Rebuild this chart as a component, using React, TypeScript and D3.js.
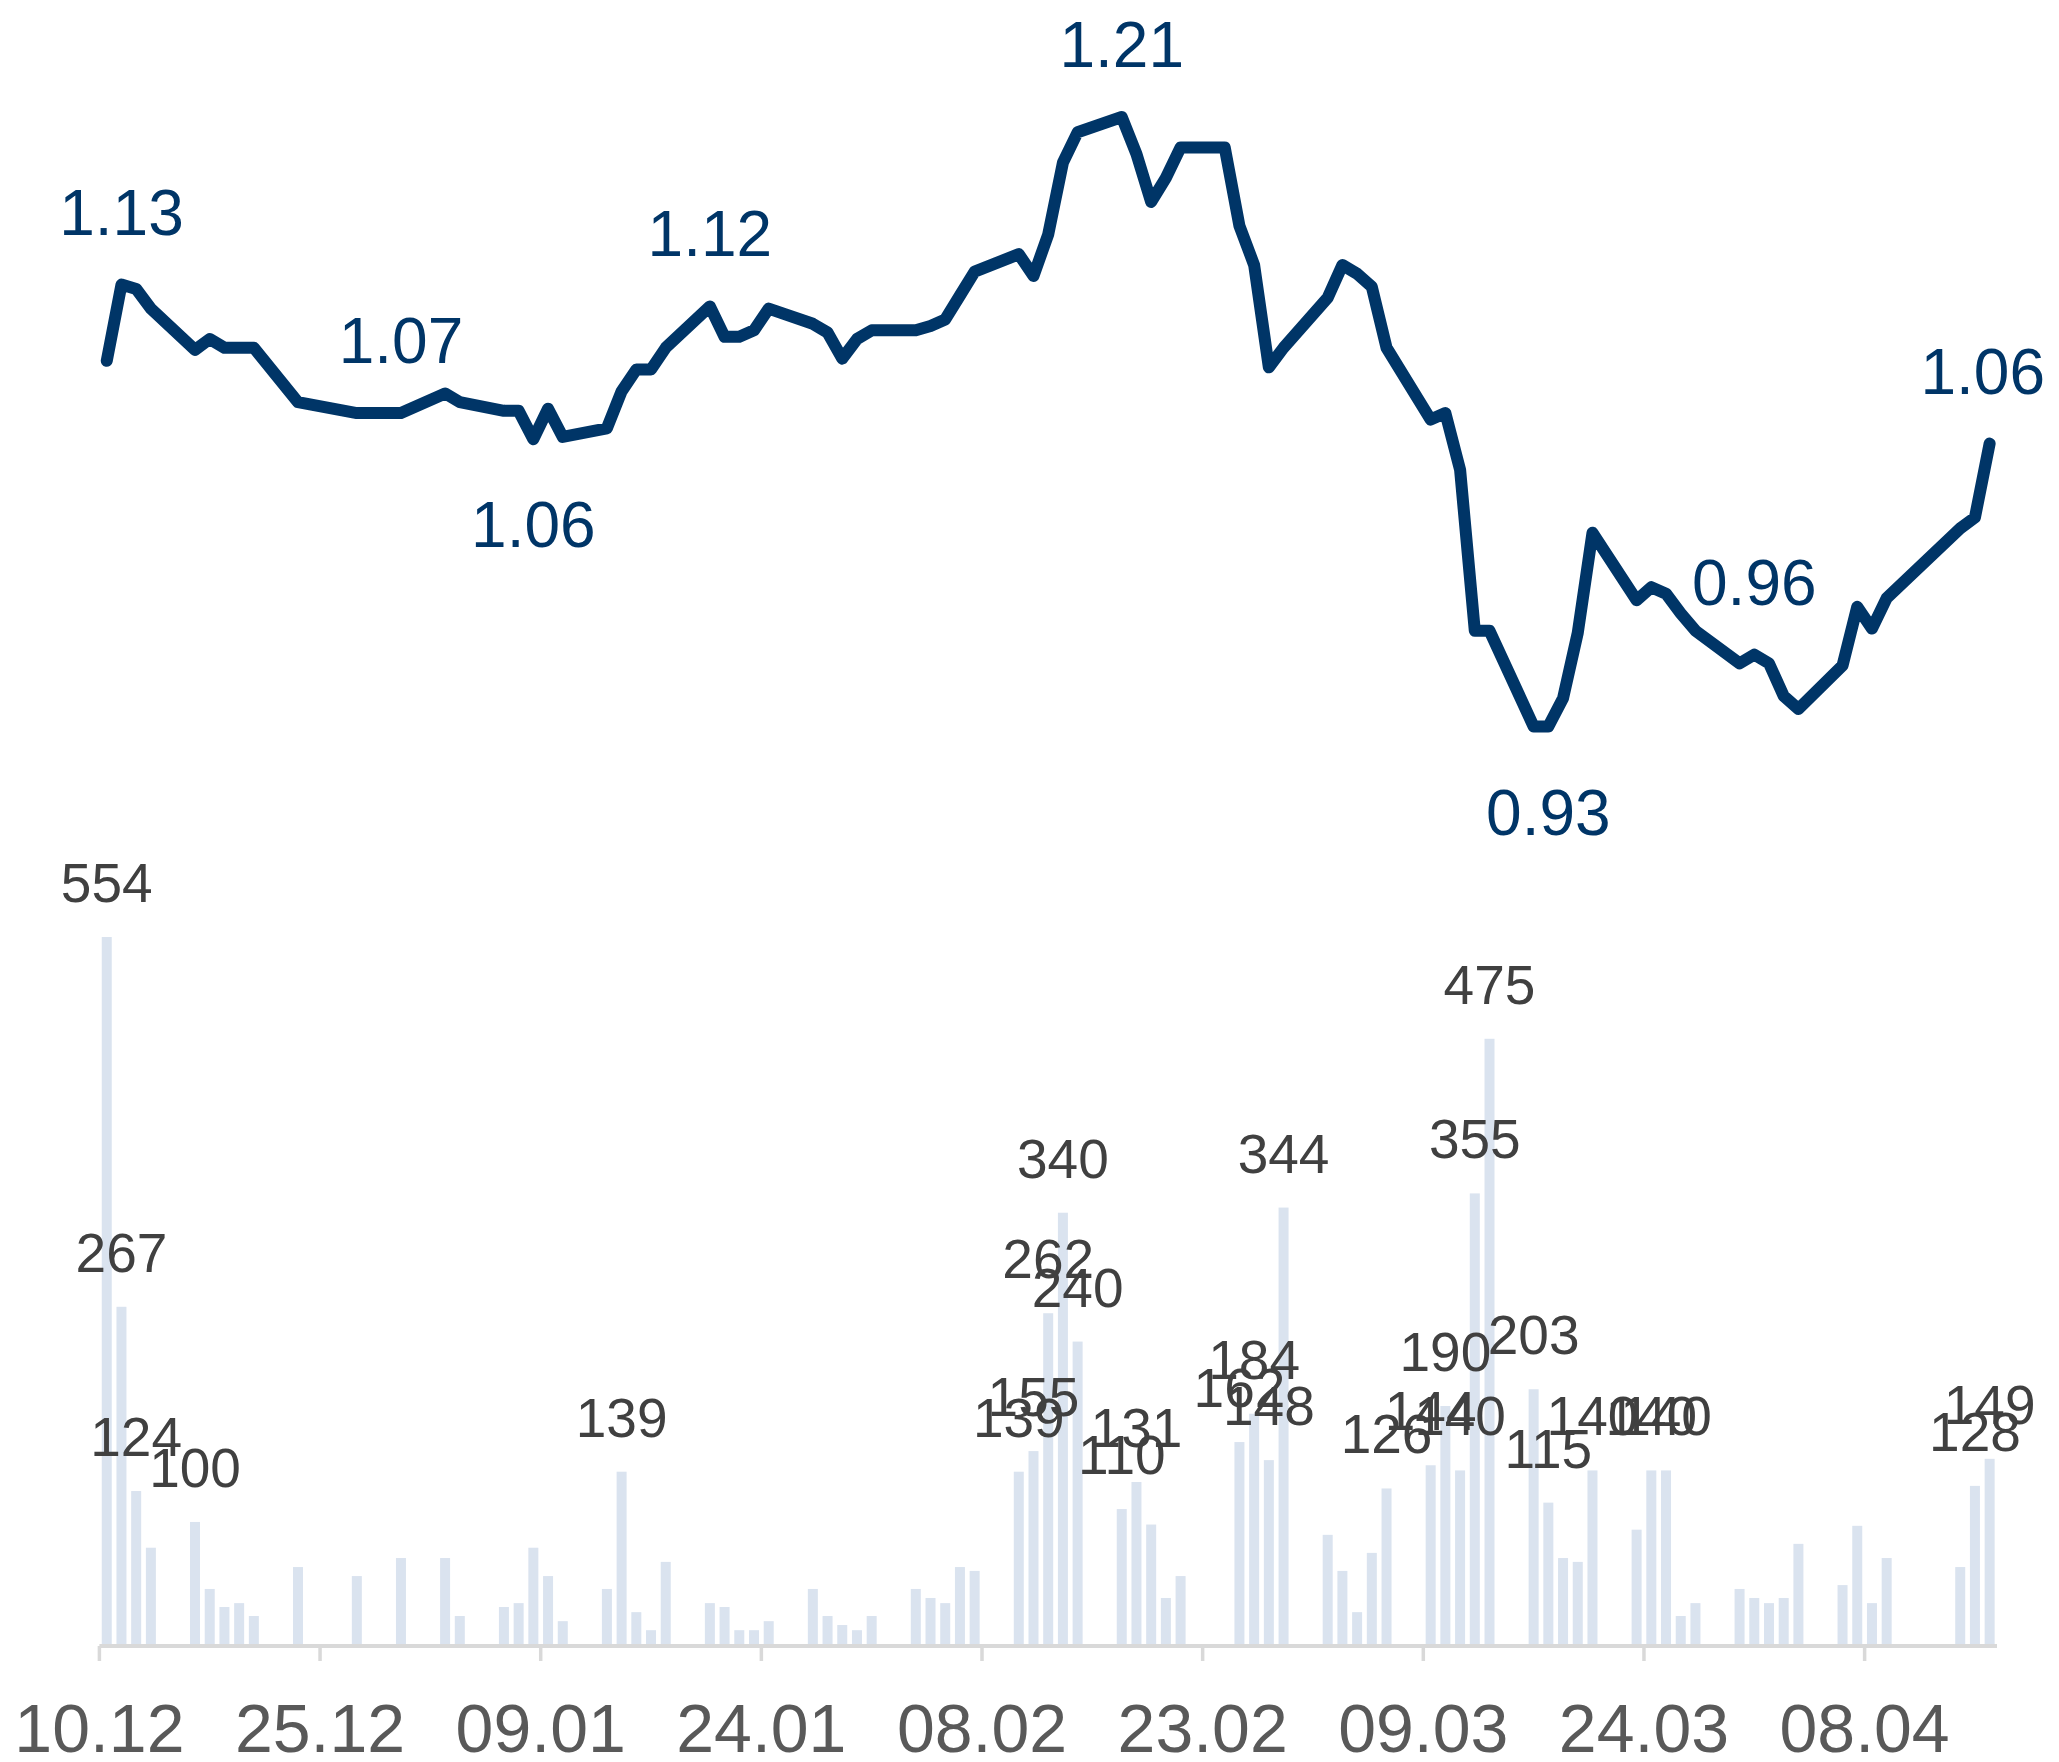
import React from 'react';
import * as d3 from 'd3';

// Trading days (Xetra, Dec 2019 – Apr 2020)
const dates: string[] = [
  '2019-12-10', '2019-12-11', '2019-12-12', '2019-12-13', '2019-12-16', '2019-12-17', '2019-12-18', '2019-12-19', '2019-12-20', '2019-12-23', '2019-12-27', '2019-12-30',
  '2020-01-02', '2020-01-03', '2020-01-06', '2020-01-07', '2020-01-08', '2020-01-09', '2020-01-10', '2020-01-13', '2020-01-14', '2020-01-15', '2020-01-16', '2020-01-17',
  '2020-01-20', '2020-01-21', '2020-01-22', '2020-01-23', '2020-01-24', '2020-01-27', '2020-01-28', '2020-01-29', '2020-01-30', '2020-01-31',
  '2020-02-03', '2020-02-04', '2020-02-05', '2020-02-06', '2020-02-07', '2020-02-10', '2020-02-11', '2020-02-12', '2020-02-13', '2020-02-14',
  '2020-02-17', '2020-02-18', '2020-02-19', '2020-02-20', '2020-02-21', '2020-02-24', '2020-02-25', '2020-02-26', '2020-02-27', '2020-02-28',
  '2020-03-02', '2020-03-03', '2020-03-04', '2020-03-05', '2020-03-06', '2020-03-09', '2020-03-10', '2020-03-11', '2020-03-12', '2020-03-13',
  '2020-03-16', '2020-03-17', '2020-03-18', '2020-03-19', '2020-03-20', '2020-03-23', '2020-03-24', '2020-03-25', '2020-03-26', '2020-03-27',
  '2020-03-30', '2020-03-31', '2020-04-01', '2020-04-02', '2020-04-03', '2020-04-06', '2020-04-07', '2020-04-08', '2020-04-09',
  '2020-04-14', '2020-04-15', '2020-04-16',
];

const prices: number[] = [
  1.098, 1.133, 1.131, 1.122, 1.103, 1.108, 1.104, 1.104, 1.104, 1.079, 1.074, 1.074,
  1.083, 1.079, 1.075, 1.075, 1.062, 1.076, 1.063, 1.067, 1.084, 1.094, 1.094, 1.104,
  1.123, 1.109, 1.109, 1.112, 1.122, 1.115, 1.111, 1.099, 1.108, 1.112,
  1.112, 1.114, 1.117, 1.128, 1.139, 1.147, 1.137, 1.156, 1.189, 1.203,
  1.21, 1.193, 1.171, 1.182, 1.196, 1.196, 1.160, 1.142, 1.095, 1.104,
  1.127, 1.142, 1.138, 1.132, 1.104, 1.071, 1.074, 1.048, 0.974, 0.974,
  0.93, 0.93, 0.943, 0.973, 1.019, 0.988, 0.994, 0.991, 0.982, 0.974,
  0.959, 0.963, 0.959, 0.944, 0.938, 0.958, 0.985, 0.975, 0.989,
  1.021, 1.026, 1.06,
];

const volumes: number[] = [
  554, 267, 124, 80, 100, 48, 34, 37, 27, 65, 58, 72,
  72, 27, 34, 37, 80, 58, 23, 48, 139, 30, 16, 69,
  37, 34, 16, 16, 23, 48, 27, 20, 16, 27,
  48, 41, 37, 65, 62, 139, 155, 262, 340, 240,
  110, 131, 98, 41, 58, 0, 162, 184, 148, 344,
  90, 62, 30, 76, 126, 144, 190, 140, 355, 475,
  203, 115, 72, 69, 140, 94, 140, 140, 27, 37,
  48, 41, 37, 41, 83, 51, 97, 37, 72,
  65, 128, 149,
];

const tickDates: string[] = [
  '2019-12-10', '2019-12-25', '2020-01-09', '2020-01-24', '2020-02-08',
  '2020-02-23', '2020-03-09', '2020-03-24', '2020-04-08',
];

const labelDates: string[] = ['2019-12-11', '2019-12-30', '2020-01-08', '2020-01-20', '2020-02-17', '2020-03-17', '2020-03-31', '2020-04-16'];
const labelSides: string[] = ['above', 'above', 'below', 'above', 'above', 'below', 'above', 'above'];

const W = 2059;
const H = 1762;
const FONT = '"Liberation Sans", Arial, Helvetica, sans-serif';
const LINE_COLOR = '#003567';
const BAR_COLOR = '#dae3ef';

export default function App() {
  const parse = d3.utcParse('%Y-%m-%d');
  const fmt = d3.utcFormat('%d.%m');
  const start = parse('2019-12-10') as Date;
  const end = parse('2020-04-17') as Date;

  const x = d3.scaleUtc().domain([start, end]).range([99.4, 1997]);
  const cx = (s: string) => x(d3.utcHour.offset(parse(s) as Date, 12));

  const yPrice = d3.scaleLinear().domain([0.93, 1.21]).range([726.5, 117]);
  const yVol = d3.scaleLinear().domain([0, 554]).range([1650.8, 937]);
  const axisY = 1646;

  const pts = dates.map((d, i) => ({ d, p: prices[i], v: volumes[i] }));
  const line = d3
    .line<{ d: string; p: number }>()
    .x((e) => cx(e.d))
    .y((e) => yPrice(e.p));

  const barW = 10;
  const labelFs = 64;

  return (
    <svg
      width={W}
      height={H}
      style={{ position: 'absolute', left: 0, top: 0, background: '#ffffff' }}
      fontFamily={FONT}
    >
      <rect x={0} y={0} width={W} height={H} fill="#ffffff" />
      {/* volume bars */}
      {pts.map((e) =>
        e.v > 0 ? (
          <rect
            key={'b' + e.d}
            x={cx(e.d) - barW / 2}
            y={yVol(e.v)}
            width={barW}
            height={Math.max(0, axisY - yVol(e.v))}
            fill={BAR_COLOR}
          />
        ) : null
      )}
      {/* axis */}
      <line x1={x(start)} x2={x(end)} y1={axisY} y2={axisY} stroke="#d9d9d9" strokeWidth={4} />
      {tickDates.map((t) => (
        <g key={'t' + t}>
          <line x1={x(parse(t) as Date)} x2={x(parse(t) as Date)} y1={axisY} y2={axisY + 15} stroke="#d9d9d9" strokeWidth={3.5} />
          <text x={x(parse(t) as Date)} y={1752} fontSize={68} fill="#595959" textAnchor="middle">
            {fmt(parse(t) as Date)}
          </text>
        </g>
      ))}
      {/* bar labels */}
      {pts
        .filter((e) => e.v >= 100)
        .map((e) => (
          <text key={'bl' + e.d} x={cx(e.d)} y={yVol(e.v) - 35} fontSize={55} fill="#404040" textAnchor="middle">
            {e.v}
          </text>
        ))}
      {/* price line */}
      <path
        d={line(pts) || ''}
        fill="none"
        stroke={LINE_COLOR}
        strokeWidth={12}
        strokeLinejoin="round"
        strokeLinecap="round"
      />
      {labelDates.map((ld, i) => {
        const idx = dates.indexOf(ld);
        const p = prices[idx];
        const txt = p.toFixed(2);
        const half = (txt.length - 1) * 0.556 * labelFs * 0.5 + 0.278 * labelFs * 0.5;
        const px = Math.min(cx(ld), 2045 - half);
        const py = labelSides[i] === 'above' ? yPrice(p) - 50 : yPrice(p) + 108;
        return (
          <text key={'pl' + ld} x={px} y={py} fontSize={labelFs} fill={LINE_COLOR} textAnchor="middle">
            {txt}
          </text>
        );
      })}
    </svg>
  );
}
